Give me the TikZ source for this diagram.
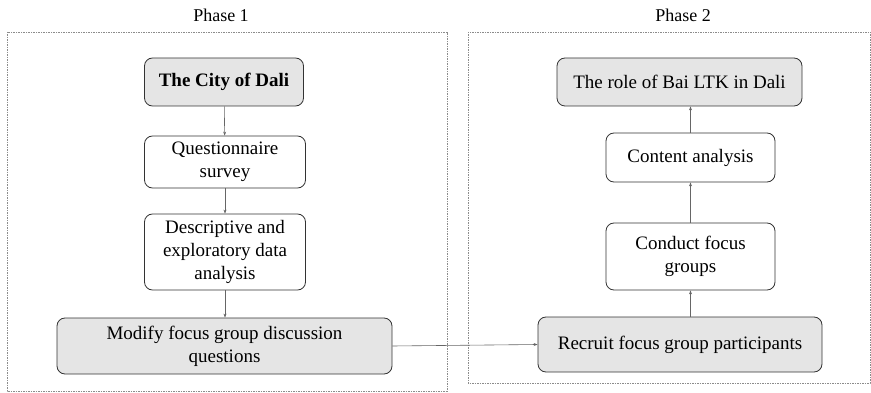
\documentclass[tikz,border=0pt]{standalone}
\usepackage{fontspec}
\setmainfont{Liberation Serif}
\usetikzlibrary{arrows.meta}
\begin{document}
\begin{tikzpicture}[x=1pt,y=-1pt,
  phasebox/.style={draw=black!45, line width=0.6pt, dash pattern=on 1.5pt off 1pt},
  stepbox/.style={draw=black!80, line width=0.8pt, rounded corners=8pt, align=center, font=\fontsize{19}{23}\selectfont, inner sep=0pt},
  graybox/.style={stepbox, fill=black!10},
  conn/.style={draw=black!60, line width=0.6pt, -{Stealth[length=4pt,width=3pt]}},
  title/.style={font=\fontsize{18}{21}\selectfont}]
\useasboundingbox (0,0) rectangle (871,393);
\draw[phasebox] (7,32) rectangle (447,391);
\draw[phasebox] (468,32) rectangle (870,383);
\node[title] (p1) at (221,15) {Phase 1};
\node[title] (p2) at (683,15) {Phase 2};
\node[graybox, minimum width=159pt, minimum height=48pt, font=\fontsize{19}{23}\selectfont\bfseries] (city) at (224,82) {The City of Dali};
\node[stepbox, minimum width=161pt, minimum height=52pt] (quest) at (225,162) {Questionnaire\\survey};
\node[stepbox, minimum width=161pt, minimum height=76pt] (desc) at (225,252) {Descriptive and\\exploratory data\\analysis};
\node[graybox, minimum width=335pt, minimum height=56pt] (mod) at (224.5,346) {Modify focus group discussion\\questions};
\node[graybox, minimum width=245pt, minimum height=48pt] (role) at (679.5,82) {The role of Bai LTK in Dali};
\node[stepbox, minimum width=169pt, minimum height=49pt] (cont) at (690.5,157.5) {Content analysis};
\node[stepbox, minimum width=169pt, minimum height=67pt] (cond) at (690.5,256.5) {Conduct focus\\groups};
\node[graybox, minimum width=284pt, minimum height=55pt] (rec) at (680,344.5) {Recruit focus group participants};
\draw[conn] (city) -- (quest);
\draw[conn] (quest) -- (desc);
\draw[conn] (desc.south) -- (desc.south |- mod.north);
\draw[conn] (mod.east) -- (rec.west);
\draw[conn] (rec.north -| cond.south) -- (cond.south);
\draw[conn] (cond) -- (cont);
\draw[conn] (cont.north) -- (cont.north |- role.south);
\end{tikzpicture}
\end{document}
